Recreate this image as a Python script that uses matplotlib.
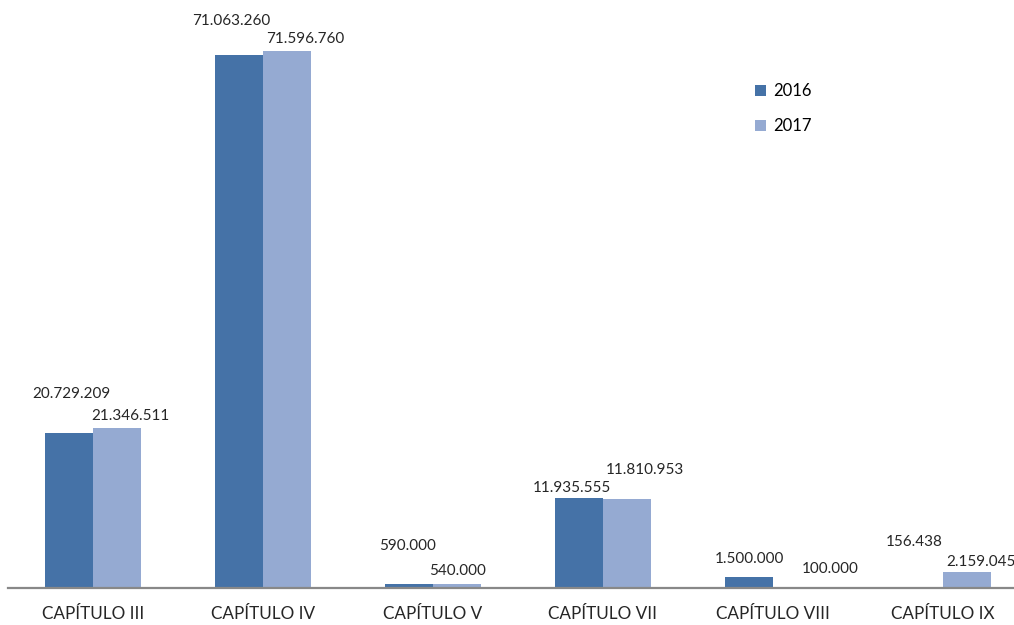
import numpy as np
import matplotlib.pyplot as plt

plt.rcParams['font.family'] = ['Lato', 'DejaVu Sans']

categories = ['CAPÍTULO III', 'CAPÍTULO IV', 'CAPÍTULO V',
              'CAPÍTULO VII', 'CAPÍTULO VIII', 'CAPÍTULO IX']
v2016 = [20729209, 71063260, 590000, 11935555, 1500000, 156438]
v2017 = [21346511, 71596760, 540000, 11810953, 100000, 2159045]

# label offsets (pixels) from the top centre of each bar, as in the original
off2016 = [(2, 39), (-8, 34), (-1, 38), (-7, 10), (0, 18), (-5, 45)]
off2017 = [(13, 12), (18, 12), (1, 13), (18, 29), (33, 18), (14, 10)]

def fmt(v):
    return f'{v:,}'.replace(',', '.')

fig = plt.figure(figsize=(10.14, 6.25), dpi=100)
ax = fig.add_axes([8 / 1014, 37 / 625, 1006 / 1014, 588 / 625])

x = np.arange(len(categories))
w = 48 / 170

b1 = ax.bar(x - w / 2, v2016, w, color='#4572A7', label='2016')
b2 = ax.bar(x + w / 2, v2017, w, color='#95AAD2', label='2017')

for bars, vals, offs in [(b1, v2016, off2016), (b2, v2017, off2017)]:
    for b, v, (dx, dy) in zip(bars, vals, offs):
        ax.annotate(fmt(v), (b.get_x() + b.get_width() / 2, v),
                    xytext=(dx, dy), textcoords='offset pixels',
                    ha='center', va='center', fontsize=11, color='#262626',
                    annotation_clip=False)

ax.set_xlim(-0.5, (1006 / 170) - 0.5)
ax.set_ylim(0, 588 / 7.5 * 1e6)

ax.set_xticks(x)
ax.set_xticklabels(categories, fontsize=12.3, color='#262626')
ax.tick_params(axis='x', length=0, pad=13)
ax.set_yticks([])

for s in ['top', 'right', 'left']:
    ax.spines[s].set_visible(False)
ax.spines['bottom'].set_color('#888888')
ax.spines['bottom'].set_linewidth(1.6)

ax.legend(loc='upper left', bbox_to_anchor=(740 / 1014, 1 - 68 / 625),
          bbox_transform=fig.transFigure, frameon=False, fontsize=12,
          handlelength=0.65, handleheight=0.65, handletextpad=0.45,
          labelspacing=1.15)

plt.savefig('out.png', dpi=100)
